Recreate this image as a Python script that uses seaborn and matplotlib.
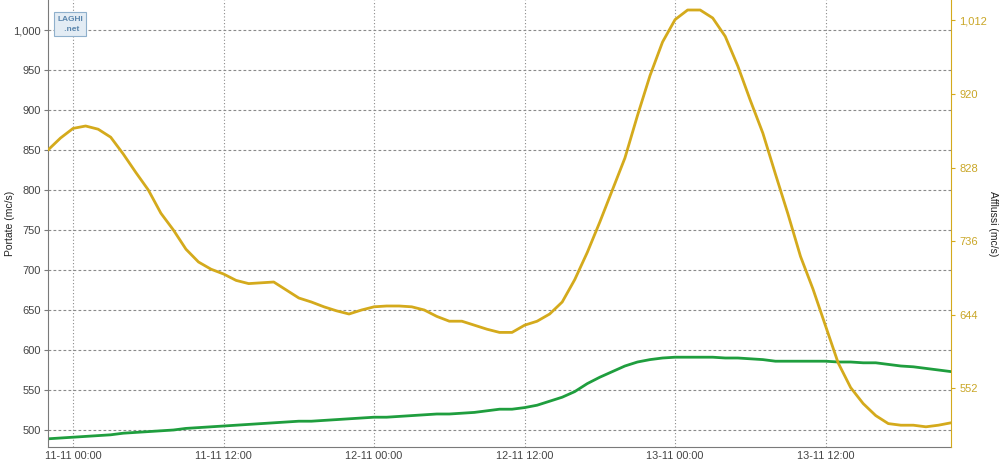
import pandas as pd
import matplotlib
matplotlib.use("Agg")
import matplotlib.pyplot as plt
import matplotlib.dates as mdates
from matplotlib.ticker import FuncFormatter
import seaborn as sns

# hourly readings, 10-11 22:00 -> 13-11 22:00
start = "2023-11-10 22:00"
portate = [489, 490, 491, 492, 493, 494, 496, 497, 498, 499, 500, 502, 503, 504,
           505, 506, 507, 508, 509, 510, 511, 511, 512, 513, 514, 515, 516, 516,
           517, 518, 519, 520, 520, 521, 522, 524, 526, 526, 528, 531, 536, 541,
           548, 558, 566, 573, 580, 585, 588, 590, 591, 591, 591, 591, 590, 590,
           589, 588, 586, 586, 586, 586, 586, 585, 585, 584, 584, 582, 580, 579,
           577, 575, 573]
afflussi = [850, 865, 877, 880, 876, 866, 845, 822, 800, 771, 750, 726, 710, 701,
            695, 687, 683, 684, 685, 675, 665, 660, 654, 649, 645, 650, 654, 655,
            655, 654, 650, 642, 636, 636, 631, 626, 622, 622, 631, 636, 645, 660,
            688, 722, 760, 800, 840, 893, 943, 985, 1013, 1025, 1025, 1015, 992,
            955, 912, 871, 820, 770, 717, 676, 630, 584, 553, 533, 518, 508, 506,
            506, 504, 506, 509]
left_ticks = [500, 550, 600, 650, 700, 750, 800, 850, 900, 950, 1000]
right_ticks = [552, 644, 736, 828, 920, 1012]

times = pd.date_range(start, periods=len(portate), freq="h")
df = pd.DataFrame({"time": times, "Portate": portate, "Afflussi": afflussi})

sns.set_style("white")
plt.rcParams["font.family"] = ["Liberation Sans", "DejaVu Sans"]

green = "#1f9e3e"
gold = "#d4aa1c"
grey = "#7a7a7a"

fig = plt.figure(figsize=(10, 4.65), dpi=100)
ax = fig.add_axes([0.048, 0.0387, 0.903, 0.9613])
ax2 = ax.twinx()

sns.lineplot(data=df, x="time", y="Portate", ax=ax, color=green, linewidth=2)
sns.lineplot(data=df, x="time", y="Afflussi", ax=ax2, color=gold, linewidth=2)

ylim = (478.75, 1037.5)
ax.set_ylim(ylim)
ax2.set_ylim(ylim)
ax.set_xlim(times[0], times[-1])

ax.set_yticks(left_ticks)
ax2.set_yticks(right_ticks)
fmt = FuncFormatter(lambda v, p: f"{int(v):,}")
ax.yaxis.set_major_formatter(fmt)
ax2.yaxis.set_major_formatter(fmt)

ax.xaxis.set_major_locator(mdates.HourLocator(byhour=[0, 12]))
ax.xaxis.set_major_formatter(mdates.DateFormatter("%d-%m %H:%M"))

ax.grid(True, axis="y", color="#8a8a8a", linestyle=(0, (2.5, 2)), linewidth=0.8)
ax.grid(True, axis="x", color="#8a8a8a", linestyle=(0, (1, 2)), linewidth=0.8)
ax.set_axisbelow(True)

ax.set_xlabel("")
ax.set_ylabel("Portate (mc/s)", fontsize=7.5, color="#222222", va="center")
ax.yaxis.set_label_coords(-0.0425, 0.5)
ax2.set_ylabel("Afflussi (mc/s)", fontsize=7.5, color="#222222", rotation=270,
               va="center")
ax2.yaxis.set_label_coords(1.046, 0.5)

ax.tick_params(axis="y", length=3, color=grey, labelsize=8, labelcolor="#444444", pad=2)
ax.tick_params(axis="x", length=2, color=grey, labelsize=7.8, labelcolor="#444444", pad=1)
ax2.tick_params(axis="y", length=3, color=gold, labelsize=8, labelcolor="#c9a626", pad=3)

for a in (ax, ax2):
    a.spines["top"].set_visible(False)
ax.spines["left"].set_color(grey)
ax.spines["bottom"].set_color(grey)
ax.spines["right"].set_visible(False)
ax2.spines["left"].set_visible(False)
ax2.spines["bottom"].set_visible(False)
ax2.spines["right"].set_color(gold)

# small site logo in the corner
ax.text(0.01, 0.965, "LAGHI\n   .net", transform=ax.transAxes, ha="left", va="top",
        fontsize=6, color="#5b86ad", fontweight="bold", linespacing=1.6,
        bbox=dict(boxstyle="square,pad=0.4", fc="#e3ecf4", ec="#8fb0cc", lw=0.8))

fig.savefig("out.png", dpi=100)
